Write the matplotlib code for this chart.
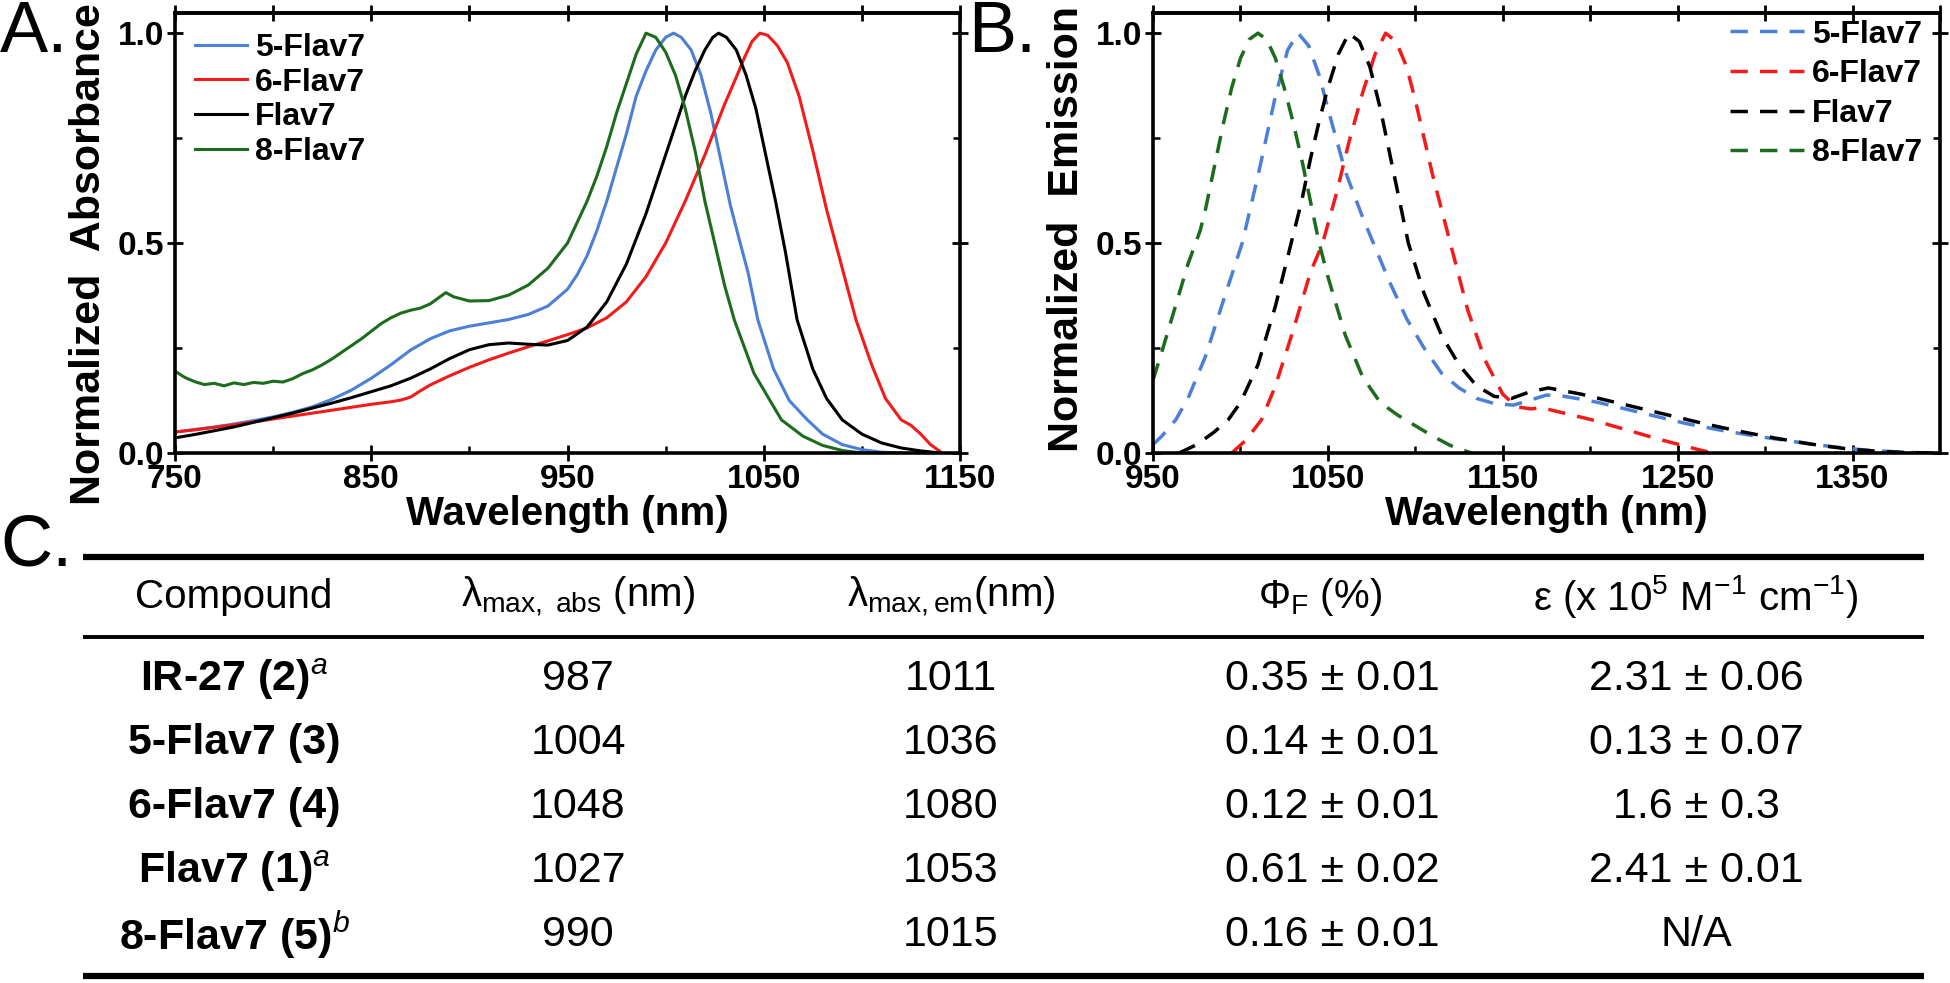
import numpy as np
import matplotlib.pyplot as plt

plt.rcParams['font.family'] = ['Liberation Sans', 'DejaVu Sans']
plt.rcParams['mathtext.fontset'] = 'custom'
plt.rcParams['mathtext.rm'] = 'Liberation Sans'
plt.rcParams['mathtext.it'] = 'Liberation Sans:italic'
plt.rcParams['mathtext.bf'] = 'Liberation Sans:bold'
plt.rcParams['mathtext.default'] = 'regular'

# ---- panel A: normalized absorbance ----
abs_wl_5 = [750, 760, 770, 780, 790, 800, 810, 820, 830, 840, 850, 860, 870, 880, 890, 900, 910, 920, 930, 940,
            950, 955, 960, 965, 970, 975, 980, 985, 990, 995, 1000, 1004, 1008, 1013, 1018, 1023, 1028, 1033, 1038,
            1042, 1047, 1055, 1063, 1072, 1080, 1090, 1100, 1110, 1120]
abs_5 = [0.050, 0.056, 0.062, 0.069, 0.077, 0.086, 0.097, 0.110, 0.128, 0.150, 0.178, 0.210, 0.245, 0.272, 0.291,
         0.302, 0.310, 0.318, 0.330, 0.350, 0.390, 0.425, 0.470, 0.530, 0.600, 0.680, 0.760, 0.850, 0.910, 0.960,
         0.990, 1.000, 0.990, 0.960, 0.900, 0.810, 0.700, 0.590, 0.500, 0.430, 0.317, 0.200, 0.125, 0.080, 0.045,
         0.020, 0.008, 0.002, 0.0]

abs_wl_6 = [750, 760, 770, 780, 790, 800, 810, 820, 830, 840, 850, 860, 865, 870, 875, 880, 890, 900, 910, 920, 930,
            940, 950, 960, 970, 980, 990, 1000, 1010, 1020, 1030, 1036, 1040, 1044, 1048, 1052, 1057, 1062, 1068,
            1075, 1082, 1090, 1097, 1105, 1112, 1120, 1125, 1130, 1135, 1140]
abs_6 = [0.050, 0.055, 0.061, 0.067, 0.074, 0.081, 0.088, 0.095, 0.102, 0.109, 0.116, 0.122, 0.126, 0.133, 0.148,
         0.162, 0.184, 0.204, 0.222, 0.238, 0.253, 0.267, 0.282, 0.298, 0.322, 0.360, 0.420, 0.500, 0.600, 0.710,
         0.830, 0.895, 0.940, 0.980, 1.000, 0.995, 0.970, 0.930, 0.850, 0.720, 0.580, 0.440, 0.317, 0.210, 0.130,
         0.079, 0.066, 0.045, 0.020, 0.003]

abs_wl_f = [750, 760, 770, 780, 790, 800, 810, 820, 830, 840, 850, 860, 870, 880, 890, 900, 910, 920, 930, 940, 950,
            960, 970, 980, 990, 1000, 1010, 1015, 1020, 1024, 1027, 1031, 1036, 1041, 1046, 1051, 1056, 1061, 1067,
            1075, 1082, 1090, 1100, 1110, 1120, 1130, 1140]
abs_f = [0.036, 0.044, 0.053, 0.062, 0.073, 0.084, 0.095, 0.107, 0.119, 0.132, 0.146, 0.160, 0.178, 0.200, 0.225,
         0.246, 0.258, 0.262, 0.259, 0.257, 0.268, 0.300, 0.360, 0.450, 0.570, 0.710, 0.850, 0.910, 0.960, 0.990,
         1.000, 0.990, 0.960, 0.900, 0.820, 0.710, 0.600, 0.480, 0.317, 0.200, 0.130, 0.079, 0.045, 0.024, 0.012,
         0.005, 0.0]

abs_wl_8 = [750, 755, 760, 765, 770, 775, 780, 785, 790, 795, 800, 805, 810, 815, 820, 825, 830, 835, 840, 845, 850,
            855, 860, 865, 870, 875, 880, 885, 888, 892, 900, 910, 920, 930, 940, 950, 960, 965, 970, 975, 980, 985,
            990, 995, 1000, 1005, 1010, 1015, 1020, 1025, 1030, 1035, 1045, 1059, 1070, 1080, 1090, 1100]
abs_8 = [0.195, 0.180, 0.170, 0.163, 0.166, 0.160, 0.167, 0.163, 0.168, 0.166, 0.171, 0.169, 0.177, 0.189, 0.198,
         0.210, 0.224, 0.240, 0.256, 0.272, 0.290, 0.308, 0.322, 0.333, 0.340, 0.345, 0.355, 0.372, 0.382, 0.372,
         0.362, 0.363, 0.376, 0.400, 0.440, 0.500, 0.600, 0.660, 0.730, 0.810, 0.880, 0.950, 1.000, 0.990, 0.955,
         0.900, 0.820, 0.720, 0.600, 0.500, 0.400, 0.317, 0.190, 0.079, 0.040, 0.018, 0.006, 0.0]

# ---- panel B: normalized emission ----
em_wl_5 = [950, 955, 963, 970, 980, 990, 1001, 1010, 1020, 1027, 1033, 1039, 1045, 1050, 1060, 1070, 1076, 1085,
           1095, 1105, 1115, 1125, 1135, 1145, 1156, 1165, 1175, 1185, 1195, 1205, 1215, 1225, 1235, 1245, 1255,
           1265, 1275, 1285, 1295, 1305, 1315, 1325, 1335, 1345, 1355, 1365, 1375, 1385, 1395]
em_5 = [0.02, 0.04, 0.079, 0.13, 0.23, 0.36, 0.50, 0.66, 0.85, 0.96, 1.00, 0.97, 0.90, 0.82, 0.67, 0.56, 0.50,
        0.41, 0.32, 0.25, 0.19, 0.155, 0.13, 0.118, 0.114, 0.125, 0.138, 0.135, 0.128, 0.12, 0.11, 0.10, 0.09, 0.08,
        0.07, 0.062, 0.054, 0.047, 0.04, 0.034, 0.028, 0.022, 0.017, 0.012, 0.008, 0.005, 0.003, 0.001, 0.0]

em_wl_6 = [995, 1003, 1012, 1020, 1030, 1040, 1047, 1055, 1062, 1070, 1077, 1083, 1089, 1095, 1100, 1110, 1120,
           1130, 1140, 1150, 1158, 1166, 1172, 1180, 1190, 1200, 1210, 1220, 1230, 1240, 1250, 1260, 1270]
em_6 = [0.0, 0.03, 0.079, 0.16, 0.29, 0.43, 0.50, 0.62, 0.74, 0.86, 0.95, 1.00, 0.98, 0.92, 0.84, 0.66, 0.50,
        0.34, 0.22, 0.14, 0.11, 0.105, 0.108, 0.10, 0.09, 0.08, 0.068, 0.056, 0.044, 0.032, 0.021, 0.01, 0.0]

em_wl_f = [965, 975, 985, 993, 1000, 1010, 1020, 1029, 1035, 1040, 1045, 1050, 1056, 1062, 1068, 1074, 1080, 1085,
           1090, 1096, 1105, 1115, 1125, 1135, 1145, 1155, 1165, 1176, 1185, 1195, 1205, 1215, 1225, 1235, 1245,
           1255, 1265, 1275, 1285, 1295, 1305, 1315, 1325, 1335, 1345, 1355, 1365, 1375, 1385, 1395]
em_f = [0.0, 0.02, 0.05, 0.079, 0.12, 0.21, 0.35, 0.50, 0.60, 0.70, 0.79, 0.87, 0.95, 1.00, 0.98, 0.92, 0.82, 0.72,
        0.62, 0.50, 0.38, 0.28, 0.21, 0.16, 0.135, 0.13, 0.145, 0.155, 0.148, 0.14, 0.13, 0.12, 0.11, 0.10, 0.09,
        0.08, 0.07, 0.061, 0.052, 0.044, 0.036, 0.029, 0.022, 0.016, 0.011, 0.007, 0.004, 0.002, 0.001, 0.0]

em_wl_8 = [950, 955, 960, 965, 970, 977, 980, 985, 990, 995, 1000, 1005, 1010, 1015, 1020, 1025, 1030, 1035, 1040,
           1045, 1050, 1060, 1070, 1080, 1090, 1100, 1110, 1120, 1132]
em_8 = [0.174, 0.24, 0.31, 0.38, 0.45, 0.53, 0.58, 0.68, 0.78, 0.87, 0.94, 0.985, 1.00, 0.985, 0.94, 0.87, 0.79,
        0.70, 0.60, 0.50, 0.42, 0.28, 0.18, 0.12, 0.09, 0.065, 0.04, 0.018, 0.0]

names = ['5-Flav7', '6-Flav7', 'Flav7', '8-Flav7']
colors = ['#4c7fd6', '#f51a1a', '#000000', '#1d6b1d']

# ---- panel C: table ----
headers = [r'Compound', r'λ$_{max,\ abs}$ (nm)', r'λ$_{max,em}$(nm)', r'Φ$_F$ (%)',
           r'ε (x 10$^5$ M$^{-1}$ cm$^{-1}$)']
compounds = ['IR-27 (2)', '5-Flav7 (3)', '6-Flav7 (4)', 'Flav7 (1)', '8-Flav7 (5)']
notes = ['a', '', '', 'a', 'b']
lam_abs = [987, 1004, 1048, 1027, 990]
lam_em = [1011, 1036, 1080, 1053, 1015]
phi = ['0.35 ± 0.01', '0.14 ± 0.01', '0.12 ± 0.01', '0.61 ± 0.02', '0.16 ± 0.01']
eps = ['2.31 ± 0.06', '0.13 ± 0.07', '1.6 ± 0.3', '2.41 ± 0.01', 'N/A']

W, H = 1950, 983
fig = plt.figure(figsize=(W / 100, H / 100), dpi=100)


def box(l, t, r, b):
    return [l / W, 1 - b / H, (r - l) / W, (b - t) / H]


def style(ax, xlim, xmaj, xmin_, xtop):
    ax.set_xlim(xlim)
    ax.set_ylim(0, 1.048)
    for s in ax.spines.values():
        s.set_linewidth(2.6)
    ax.set_xticks(xmaj)
    ax.set_xticks(xmin_, minor=True)
    ax.set_yticks([0, 0.5, 1.0])
    ax.set_yticks([0.25, 0.75], minor=True)
    ax.set_yticklabels(['0.0', '0.5', '1.0'])
    ax.tick_params(which='major', direction='inout', length=11, width=2, labelsize=24, pad=2.5, right=True)
    ax.tick_params(which='minor', direction='in', length=5, width=1.8, right=True)
    for lab in ax.get_xticklabels() + ax.get_yticklabels():
        lab.set_fontweight('bold')
    sec = ax.secondary_xaxis('top')
    sec.set_xticks(xtop)
    sec.tick_params(direction='inout', length=11, width=2, labeltop=False)
    sec.spines['top'].set_linewidth(2.6)
    ax.set_xlabel('Wavelength (nm)', fontsize=29, fontweight='bold', labelpad=0)


axA = fig.add_axes(box(175, 13, 960, 453))
for wl, v, n, c in zip([abs_wl_5, abs_wl_6, abs_wl_f, abs_wl_8], [abs_5, abs_6, abs_f, abs_8], names, colors):
    axA.plot(wl, v, color=c, lw=2.2, label=n)
style(axA, (750, 1150), [750, 850, 950, 1050, 1150], [800, 900, 1000, 1100], np.arange(750, 1151, 50))
axA.set_ylabel('Normalized  Absorbance', fontsize=31, fontweight='bold')
axA.yaxis.set_label_coords(-0.084, 0.452)
axA.legend(loc='upper left', bbox_to_anchor=(0.025, 0.955), frameon=False, prop={'size': 23, 'weight': 'bold'},
           handlelength=1.65, handletextpad=0.25, labelspacing=0.15, borderpad=0, borderaxespad=0)

axB = fig.add_axes(box(1153, 13, 1940, 453))
for wl, v, n, c in zip([em_wl_5, em_wl_6, em_wl_f, em_wl_8], [em_5, em_6, em_f, em_8], names, colors):
    axB.plot(wl, v, color=c, lw=2.5, ls=(0, (5, 3.5)), label=n)
style(axB, (950, 1400), [950, 1050, 1150, 1250, 1350], [1000, 1100, 1200, 1300], np.arange(950, 1401, 50))
axB.set_ylabel('Normalized  Emission', fontsize=31, fontweight='bold')
axB.yaxis.set_label_coords(-0.084, 0.51)
axB.legend(loc='upper right', bbox_to_anchor=(0.977, 0.985), frameon=False, prop={'size': 23, 'weight': 'bold'},
           handlelength=2.3, handletextpad=0.25, labelspacing=0.3, borderpad=0, borderaxespad=0)

# panel letters
fig.text(0 / W, 1 - 0 / H, 'A.', fontsize=52, ha='left', va='top')
fig.text(968 / W, 1 - 0 / H, 'B.', fontsize=52, ha='left', va='top')
fig.text(0 / W, 1 - 514 / H, 'C.', fontsize=52, ha='left', va='top')

# table on a pixel-space overlay
tab = fig.add_axes([0, 0, 1, 1])
tab.set_xlim(0, W)
tab.set_ylim(H, 0)
tab.axis('off')
tab.plot([83, 1924], [557, 557], color='k', lw=4.5, solid_capstyle='butt')
tab.plot([83, 1924], [637, 637], color='k', lw=2.8, solid_capstyle='butt')
tab.plot([83, 1924], [976, 976], color='k', lw=4.5, solid_capstyle='butt')

col_x = [234, 578, 951, 1320, 1696]
for x, h in zip(col_x, headers):
    tab.text(x, 597, h, fontsize=29, ha='center', va='center')

row_y = [679, 743, 807, 871, 935]
for i, y in enumerate(row_y):
    lab = compounds[i] + (r'$^{\mathit{%s}}$' % notes[i] if notes[i] else '')
    tab.text(col_x[0], y, lab, fontsize=31, fontweight='bold', ha='center', va='center')
    tab.text(col_x[1], y, str(lam_abs[i]), fontsize=31, ha='center', va='center')
    tab.text(col_x[2], y, str(lam_em[i]), fontsize=31, ha='center', va='center')
    tab.text(col_x[3] + 12, y, phi[i], fontsize=31, ha='center', va='center')
    tab.text(col_x[4], y, eps[i], fontsize=31, ha='center', va='center')

fig.savefig('out.png', dpi=100)
